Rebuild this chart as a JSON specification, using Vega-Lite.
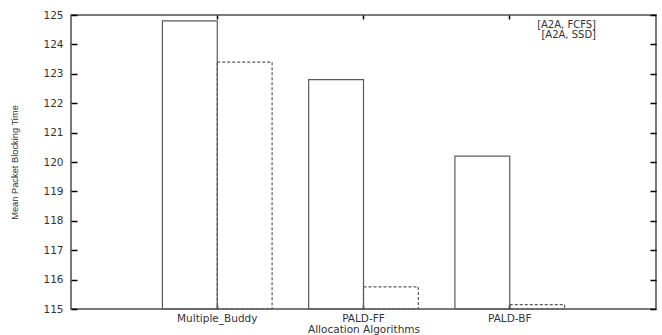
{
  "$schema": "https://vega.github.io/schema/vega-lite/v6.json",
  "width": 585,
  "height": 294,
  "autosize": {"type": "none"},
  "padding": {"left": 71, "top": 15, "right": 6, "bottom": 26},
  "background": "white",
  "config": {
    "font": "DejaVu Sans",
    "view": {"stroke": "#4d4d4d", "strokeWidth": 1.5},
    "axis": {
      "domain": false,
      "grid": false,
      "ticks": true,
      "labelFont": "DejaVu Sans",
      "labelFontSize": 10.5,
      "labelColor": "#333333",
      "tickColor": "black",
      "tickWidth": 1.5,
      "titleFont": "DejaVu Sans",
      "titleFontWeight": "normal",
      "titleColor": "#333333"
    }
  },
  "data": {
    "values": [
      {"algorithm": "Multiple_Buddy", "policy": "[A2A, FCFS]", "time": 124.8},
      {"algorithm": "Multiple_Buddy", "policy": "[A2A, SSD]", "time": 123.4},
      {"algorithm": "PALD-FF", "policy": "[A2A, FCFS]", "time": 122.8},
      {"algorithm": "PALD-FF", "policy": "[A2A, SSD]", "time": 115.75},
      {"algorithm": "PALD-BF", "policy": "[A2A, FCFS]", "time": 120.2},
      {"algorithm": "PALD-BF", "policy": "[A2A, SSD]", "time": 115.15}
    ]
  },
  "layer": [
    {
      "mark": {"type": "bar", "filled": false, "strokeWidth": 1.2},
      "encoding": {
        "x": {
          "field": "algorithm",
          "type": "nominal",
          "sort": ["Multiple_Buddy", "PALD-FF", "PALD-BF"],
          "scale": {"paddingInner": 0.25, "paddingOuter": 0.625},
          "axis": {
            "orient": "bottom",
            "title": "Allocation Algorithms",
            "titleFontSize": 10.5,
            "titlePadding": 1,
            "labelAngle": 0,
            "offset": -4,
            "tickSize": 4,
            "labelPadding": 4
          }
        },
        "xOffset": {
          "field": "policy",
          "type": "nominal",
          "sort": ["[A2A, FCFS]", "[A2A, SSD]"],
          "scale": {"paddingInner": 0, "paddingOuter": 0}
        },
        "y": {
          "field": "time",
          "type": "quantitative",
          "scale": {"domain": [115, 125], "nice": false, "zero": false},
          "axis": {
            "orient": "left",
            "values": [115, 116, 117, 118, 119, 120, 121, 122, 123, 124, 125],
            "title": "Mean Packet Blocking Time",
            "titleFont": "Liberation Sans",
            "titleFontSize": 9.3,
            "titlePadding": 23,
            "offset": -6,
            "tickSize": 6,
            "labelPadding": 8
          }
        },
        "y2": {"datum": 115},
        "color": {
          "field": "policy",
          "type": "nominal",
          "scale": {"domain": ["[A2A, FCFS]", "[A2A, SSD]"], "range": ["#5a5a5a", "#5a5a5a"]},
          "legend": {
            "orient": "none",
            "legendX": 530,
            "legendY": 5,
            "title": null,
            "symbolType": "M-1,-0.125H1V0.125H-1Z",
            "symbolSize": 1600,
            "symbolStrokeColor": "#5a5a5a",
            "symbolFillColor": "white",
            "symbolStrokeWidth": 1,
            "symbolOpacity": 1,
            "labelAlign": "right",
            "labelOffset": -46,
            "labelFont": "DejaVu Sans",
            "labelFontSize": 10,
            "labelColor": "#333333",
            "clipHeight": 9,
            "rowPadding": -3.5
          }
        },
        "strokeDash": {
          "field": "policy",
          "type": "nominal",
          "scale": {"domain": ["[A2A, FCFS]", "[A2A, SSD]"], "range": [[1, 0], [3, 2]]},
          "legend": {
            "orient": "none",
            "legendX": 530,
            "legendY": 5,
            "title": null,
            "symbolType": "M-1,-0.125H1V0.125H-1Z",
            "symbolSize": 1600,
            "symbolStrokeColor": "#5a5a5a",
            "symbolFillColor": "white",
            "symbolStrokeWidth": 1,
            "symbolOpacity": 1,
            "labelAlign": "right",
            "labelOffset": -46,
            "labelFont": "DejaVu Sans",
            "labelFontSize": 10,
            "labelColor": "#333333",
            "clipHeight": 9,
            "rowPadding": -3.5
          }
        }
      }
    },
    {
      "mark": {"type": "point", "size": 0, "strokeWidth": 0, "filled": false},
      "encoding": {
        "x": {
          "field": "algorithm",
          "type": "nominal",
          "sort": ["Multiple_Buddy", "PALD-FF", "PALD-BF"],
          "axis": {"orient": "top", "labels": false, "title": null, "offset": -4, "tickSize": 4}
        },
        "y": {
          "field": "time",
          "type": "quantitative",
          "axis": {
            "orient": "right",
            "labels": false,
            "title": null,
            "values": [115, 116, 117, 118, 119, 120, 121, 122, 123, 124, 125],
            "offset": -6,
            "tickSize": 6
          }
        }
      }
    }
  ],
  "resolve": {"axis": {"x": "independent", "y": "independent"}}
}
